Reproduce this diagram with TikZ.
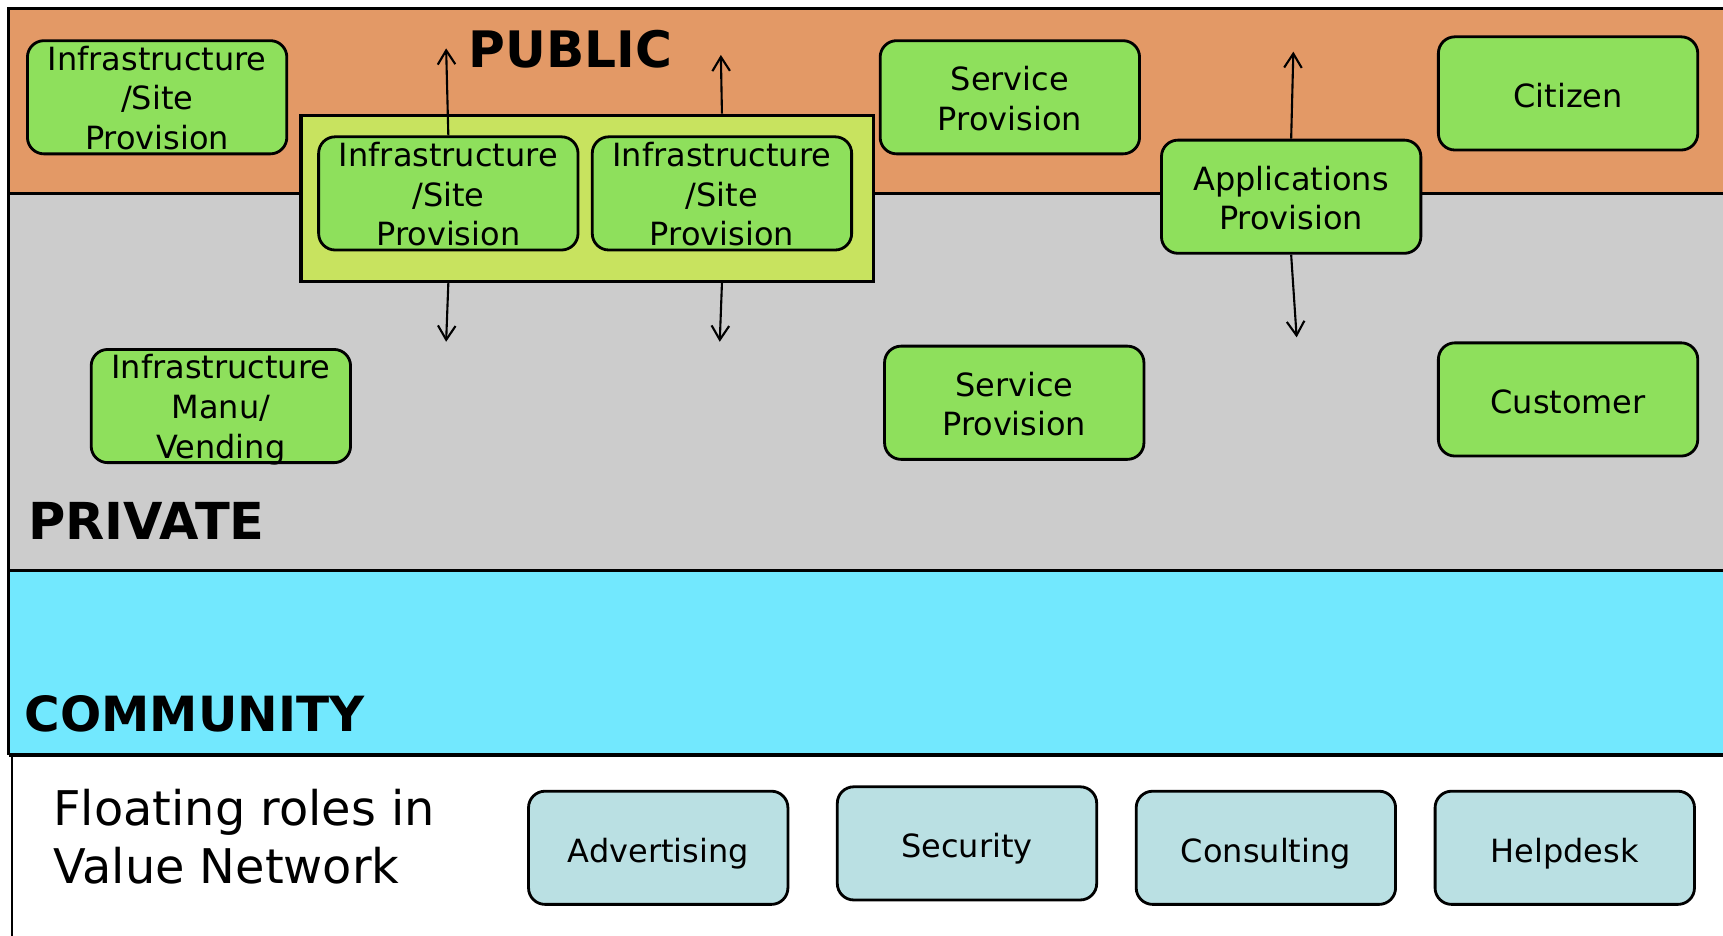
\documentclass[tikz,border=0pt]{standalone}
\usepackage{fontspec}
\setmainfont{DejaVu Sans}
\usetikzlibrary{arrows.meta}
\definecolor{pubc}{HTML}{E39966}
\definecolor{privc}{HTML}{CCCCCC}
\definecolor{commc}{HTML}{72E8FE}
\definecolor{roleg}{HTML}{8EE05C}
\definecolor{contc}{HTML}{C8E35F}
\definecolor{floatc}{HTML}{BAE0E3}
\begin{document}
\begin{tikzpicture}[x=0.1099mm,y=-0.1099mm,
  role/.style={draw=black, line width=0.8pt, rounded corners=4.7pt, fill=roleg,
    minimum width=25.94mm, minimum height=11.32mm, align=center, inner sep=0pt,
    font=\fontsize{9.1}{11.3}\selectfont,
    execute at begin node={\rule{0pt}{0.92em}}},
  threeline/.style={text height=30.8pt, text depth=1pt},
  twoline/.style={text height=20.8pt, text depth=2pt},
  floatrole/.style={role, fill=floatc,
    execute at begin node={\rule{0pt}{1.1em}}},
  layerlabel/.style={inner sep=0pt, font=\fontsize{14}{16}\bfseries\selectfont},
  arr/.style={-{Straight Barb[length=4pt,width=5pt]}, line width=0.6pt},
  bandline/.style={line width=0.8pt}]
\useasboundingbox (0,0) rectangle (1568,851);
\clip (0,0) rectangle (1568,851);
% bands
\fill[pubc] (8,8) rectangle (1600,176);
\fill[privc] (8,176) rectangle (1600,519);
\fill[commc] (8,519) rectangle (1600,687);
\draw[bandline] (1600,8) -- (8,8) -- (8,687);
\draw[bandline] (8,176) -- (1600,176);
\draw[line width=1pt] (8,519) -- (1600,519);
\draw[line width=1pt] (8,687) -- (1600,687);
\draw[line width=0.6pt] (11,687) -- (11,870);
% layer labels
\node[layerlabel, font=\fontsize{14.3}{16}\bfseries\selectfont] (pub) at (519,45) {PUBLIC};
\node[layerlabel, anchor=west, font=\fontsize{14.5}{16}\bfseries\selectfont] (priv) at (25,474) {PRIVATE};
\node[layerlabel, anchor=west, font=\fontsize{13.8}{16}\bfseries\selectfont] (comm) at (22,650) {COMMUNITY};
\node[inner sep=0pt, anchor=west, align=left, font=\fontsize{13.6}{16.6}\selectfont] (flt) at (48,761.5) {Floating roles in\\Value Network};
% public / private roles
\node[role, threeline] (tl) at (143,88.5) {Infrastructure\\/Site\\Provision};
\node[draw=black, line width=1pt, fill=contc, minimum width=57.26mm, minimum height=16.59mm, inner sep=0pt] (cont) at (534.5,180.5) {};
\node[role, threeline] (in1) at (408,176) {Infrastructure\\/Site\\Provision};
\node[role, threeline] (in2) at (657,176) {Infrastructure\\/Site\\Provision};
\node[role, twoline] (sp1) at (919,88.5) {Service\\Provision};
\node[role, twoline] (apps) at (1175,179) {Applications\\Provision};
\node[role] (cit) at (1427,85) {Citizen};
\node[role, threeline] (manu) at (201,369.5) {Infrastructure\\Manu/\\Vending};
\node[role, twoline] (sp2) at (923,366.5) {Service\\Provision};
\node[role] (cust) at (1427,363.5) {Customer};
% floating roles
\node[floatrole] (adv) at (599,771.5) {Advertising};
\node[floatrole] (sec) at (880,767.5) {Security};
\node[floatrole] (cons) at (1152,771.5) {Consulting};
\node[floatrole] (help) at (1424,771.5) {Helpdesk};
% arrows
\coordinate (u1) at (406,44);
\coordinate (u2) at (656,50);
\coordinate (d1) at (406,311);
\coordinate (d2) at (655,311);
\coordinate (u3) at (1177,47);
\coordinate (d3) at (1180,307);
\draw[arr] (in1.north) -- (u1);
\draw[arr] (in2 |- cont.north) -- (u2);
\draw[arr] (in1 |- cont.south) -- (d1);
\draw[arr] (in2 |- cont.south) -- (d2);
\draw[arr] (apps.north) -- (u3);
\draw[arr] (apps.south) -- (d3);
\end{tikzpicture}
\end{document}
